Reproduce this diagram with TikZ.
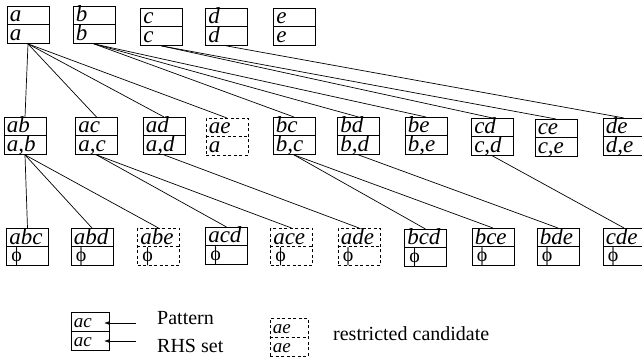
\documentclass[tikz,border=0pt]{standalone}
\usepackage{fontspec}
\setmainfont{Liberation Serif}
\usetikzlibrary{calc,arrows.meta}
\tikzset{
  cell/.style={draw, line width=0.9pt, minimum width=42pt, minimum height=37pt, inner sep=0pt},
  lcell/.style={draw, line width=0.9pt, minimum width=38pt, minimum height=38pt, inner sep=0pt},
  restr/.style={dash pattern=on 3pt off 2.5pt},
  plain/.style={},
  lbl/.style={inner sep=0pt, font=\fontsize{23}{25}\selectfont\itshape},
  phil/.style={inner sep=0pt, font=\fontsize{20}{22}\selectfont\upshape},
  llbl/.style={inner sep=0pt, font=\fontsize{19}{21}\selectfont\itshape},
  txt/.style={inner sep=0pt, font=\fontsize{20}{22}\selectfont},
  conn/.style={line width=0.7pt},
  legarrow/.style={line width=0.7pt, -{Latex[length=5pt,width=3.5pt]}}
}
\newcommand\cand[6]{%
  \node[cell,#6,anchor=north] (#1) at (#2,#3) {};
  \draw[line width=0.9pt,#6] (#1.west) -- (#1.east);
  \node[lbl,anchor=base west] (#1-u) at ($(#1.north west)+(3,16)$) {#4};
  \node[lbl,anchor=base west] (#1-l) at ($(#1.west)+(3,16)$) {#5};
}
\newcommand\candphi[4]{%
  \node[cell,#4,anchor=north] (#1) at (#2,#3) {};
  \draw[line width=0.9pt,#4] (#1.west) -- (#1.east);
  \node[lbl,anchor=base west] (#1-u) at ($(#1.north west)+(3,16)$) {#1};
  \node[phil,anchor=base west] (#1-l) at ($(#1.west)+(5,15)$) {ϕ};
}
\begin{document}
\begin{tikzpicture}[x=1pt,y=-1pt]
\useasboundingbox (0,0) rectangle (642,363);
% level 1
\cand{a}{28}{6}{a}{a}{plain}
\cand{b}{94}{6}{b}{b}{plain}
\cand{c}{161.5}{8}{c}{c}{plain}
\cand{d}{226.5}{8}{d}{d}{plain}
\cand{e}{294.5}{8}{e}{e}{plain}
% level 2
\cand{ab}{25}{117}{ab}{a,b}{plain}
\cand{ac}{96.5}{117}{ac}{a,c}{plain}
\cand{ad}{164}{117}{ad}{a,d}{plain}
\cand{ae}{227}{118}{ae}{a}{restr}
\cand{bc}{294}{117}{bc}{b,c}{plain}
\cand{bd}{358.5}{117}{bd}{b,d}{plain}
\cand{be}{426}{117}{be}{b,e}{plain}
\cand{cd}{492.5}{118}{cd}{c,d}{plain}
\cand{ce}{556}{119}{ce}{c,e}{plain}
\cand{de}{624}{118}{de}{d,e}{plain}
% level 3
\candphi{abc}{27.5}{228}{plain}
\candphi{abd}{92}{228}{plain}
\candphi{abe}{158.5}{228}{restr}
\candphi{acd}{226.5}{227}{plain}
\candphi{ace}{291.5}{228}{restr}
\candphi{ade}{359}{228}{restr}
\candphi{bcd}{425.5}{229}{plain}
\candphi{bce}{493}{228}{plain}
\candphi{bde}{558}{228}{plain}
\candphi{cde}{624}{228}{plain}
% connectors level 1 -> 2
\foreach \p/\c in {a/ab,a/ac,a/ad,a/ae,b/bc,b/bd,b/be,c/cd,c/ce,d/de}
  \draw[conn] (\p.south) -- (\c.north);
% connectors level 2 -> 3
\foreach \p/\c in {ab/abc,ab/abd,ab/abe,ac/acd,ac/ace,ad/ade,bc/bcd,bc/bce,bd/bde,cd/cde}
  \draw[conn] (\p.south) -- (\c.north);
% legend
\node[lcell,anchor=north] (leg) at (90,312) {};
\draw[line width=0.9pt] (leg.west) -- (leg.east);
\node[llbl,anchor=base west] (leg-u) at ($(leg.north west)+(3,15)$) {ac};
\node[llbl,anchor=base west] (leg-l) at ($(leg.west)+(3,15)$) {ac};
\coordinate (s1) at (136,323);
\coordinate (t1) at (104,323);
\coordinate (s2) at (136,341);
\coordinate (t2) at (104,341);
\draw[legarrow] (s1) -- (t1);
\draw[legarrow] (s2) -- (t2);
\node[txt,anchor=base west] (pat) at (157,324) {Pattern};
\node[txt,anchor=base west] (rhs) at (157,352) {RHS set};
\node[lcell,restr,anchor=north] (rleg) at (289,318) {};
\draw[line width=0.9pt,restr] (rleg.west) -- (rleg.east);
\node[llbl,anchor=base west] (rleg-u) at ($(rleg.north west)+(3,15)$) {ae};
\node[llbl,anchor=base west] (rleg-l) at ($(rleg.west)+(3,15)$) {ae};
\node[txt,anchor=base west] (rc) at (333,340) {restricted candidate};
\end{tikzpicture}
\end{document}
